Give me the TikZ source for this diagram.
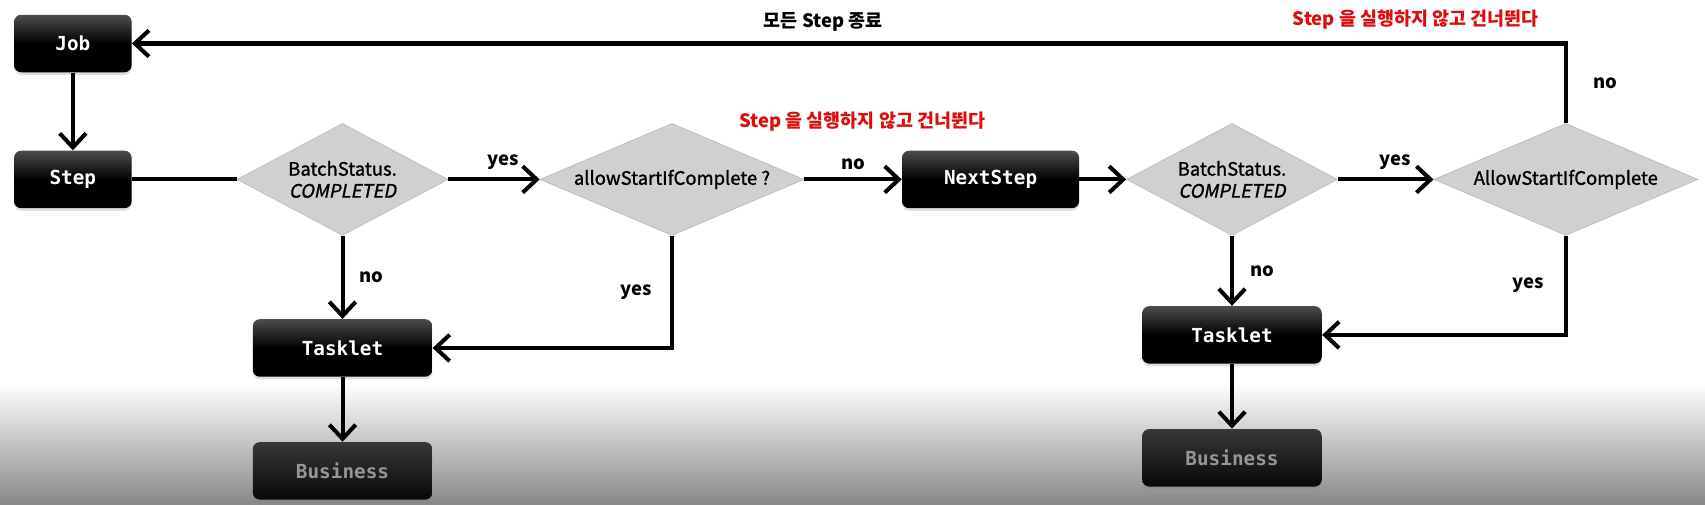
\documentclass[tikz,border=0pt]{standalone}
\usepackage{fontspec}
\usepackage{xcolor}
\usepackage{tikz}
\usetikzlibrary{arrows.meta,shapes.geometric,shadows}
\newfontfamily\krfont{Noto Sans CJK KR}
\newfontfamily\krmid{Noto Sans CJK KR}[FakeBold=1.2]
\newfontfamily\krslant{Noto Sans CJK KR}[FakeSlant=0.2,FakeBold=1.2]
\newfontfamily\boxfont{DejaVu Sans Mono}
\definecolor{NoteRed}{RGB}{222,12,12}
\definecolor{DiamondGray}{RGB}{208,208,208}
\definecolor{DiamondEdge}{RGB}{188,188,188}
\definecolor{BusinessText}{RGB}{150,150,150}
\definecolor{FloorGray}{RGB}{136,136,136}

\begin{document}
\begin{tikzpicture}[x=0.21748mm,y=-0.21748mm,>={Straight Barb[length=8pt,width=15pt]},
  flow/.style={line width=2.3pt},
  box/.style={rounded corners=4pt,top color=black!70,bottom color=black,middle color=black,
    drop shadow={opacity=0.25,shadow xshift=0pt,shadow yshift=-1.5pt},
    minimum width=2.35cm,minimum height=1.15cm,text=white,
    font=\boxfont\bfseries\fontsize{11}{13}\selectfont},
  business/.style={box,top color=black!78,middle color=black!97,bottom color=black!97,
    text=BusinessText,minimum width=3.59cm},
  decision/.style={diamond,aspect=2,inner sep=0pt,fill=DiamondGray,draw=DiamondEdge,
    line width=0.4pt,minimum width=4.22cm,minimum height=2.24cm,align=center,
    font=\krmid\fontsize{10.5}{12.5}\selectfont},
  lbl/.style={font=\krfont\bfseries\fontsize{10.5}{12}\selectfont},
  note/.style={lbl,text=NoteRed}]
  \useasboundingbox (0,0) rectangle (1568,464);
  \fill[white] (0,0) rectangle (1568,352);
  \shade[top color=white,bottom color=FloorGray] (0,352) rectangle (1568,464);

  \node[box] (job) at (67,40) {Job};
  \node[box] (step) at (67,165) {Step};
  \node[decision] (check1) at (315,165) {BatchStatus.\\{\krslant COMPLETED}};
  \node[decision,aspect=2.4,minimum width=5.28cm] (allow1) at (618,165) {allowStartIfComplete ?};
  \node[box,minimum width=3.54cm] (next) at (911,165) {NextStep};
  \node[decision] (check2) at (1133,165) {BatchStatus.\\{\krslant COMPLETED}};
  \node[decision,aspect=2.4,minimum width=5.28cm] (allow2) at (1440,165) {AllowStartIfComplete};
  \node[box,minimum width=3.59cm] (task1) at (315,320) {Tasklet};
  \node[business] (biz1) at (315,433) {Business};
  \node[box,minimum width=3.59cm] (task2) at (1133,308) {Tasklet};
  \node[business] (biz2) at (1133,421) {Business};
  \node[lbl] (allDone) at (757,20) {모든 Step 종료};
  \node[note] (skip1) at (793,112) {Step 을 실행하지 않고 건너뛴다};
  \node[note] (skip2) at (1302,18) {Step 을 실행하지 않고 건너뛴다};

  \draw[->,flow] (job) -- (step);
  \draw[flow] (step) -- (check1);
  \draw[->,flow] (check1) -- node[lbl,above=1pt,pos=0.6] (yes1) {yes} (allow1);
  \draw[->,flow] (allow1) -- node[lbl,above=1pt] (no1) {no} (next);
  \draw[->,flow] (next) -- (check2);
  \draw[->,flow] (check2) -- node[lbl,above=1pt,pos=0.6] (yes3) {yes} (allow2);
  \draw[->,flow] (allow2.north) |- node[lbl,right=11pt,pos=0.25] (no4) {no} (job.east);
  \draw[->,flow] (allow2.south) |- node[lbl,left=8pt,pos=0.25] (yes4) {yes} (task2.east);
  \draw[->,flow] (check2) -- node[lbl,right=6pt] (no3) {no} (task2);
  \draw[->,flow] (check1) -- node[lbl,right=5pt] (no2) {no} (task1);
  \draw[->,flow] (allow1.south) |- node[lbl,left=7pt,pos=0.25] (yes2) {yes} (task1.east);
  \draw[->,flow] (task1) -- (biz1);
  \draw[->,flow] (task2) -- (biz2);
\end{tikzpicture}
\end{document}
